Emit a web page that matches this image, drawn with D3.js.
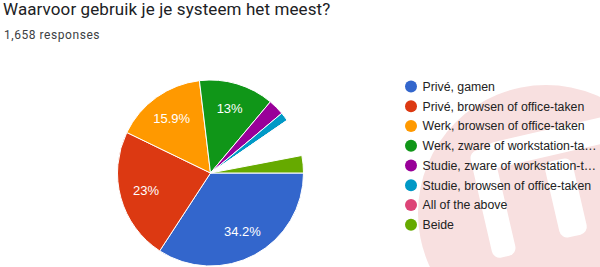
<!DOCTYPE html>
<html>
<head>
<meta charset="utf-8">
<script src="https://cdn.jsdelivr.net/npm/d3@7"></script>
<style>
  body { margin: 0; background: #fff; }
  svg { display: block; }
</style>
</head>
<body>
<svg id="chart" width="600" height="267"></svg>
<script>
// answers shown in the legend (Google Forms summary)
var labels = ["Privé, gamen", "Privé, browsen of office-taken", "Werk, browsen of office-taken",
              "Werk, zware of workstation-taken", "Studie, zware of workstation-taken",
              "Studie, browsen of office-taken", "All of the above", "Beide"];
var counts = [567, 381, 264, 216, 46, 25, 1, 50];
var colors = ["#3366cc", "#dc3912", "#ff9900", "#109618", "#990099", "#0099c6", "#dd4477", "#66aa00"];
// remaining answers (not in this legend page), shown as the empty wedge
var otherCount = 108;
var total = 1658;

var svg = d3.select("#chart");

// faint watermark behind the legend
var wm = svg.append("g");
wm.append("circle").attr("cx", 546).attr("cy", 213).attr("r", 128).attr("fill", "#f8e0e0");
var bars = [
  {cx: 493, cy: 203, w: 24, h: 110},
  {cx: 552, cy: 142, w: 130, h: 26},
  {cx: 566, cy: 198, w: 28, h: 78}
];
wm.selectAll("rect").data(bars).enter().append("rect")
  .attr("x", d => d.cx - d.w / 2).attr("y", d => d.cy - d.h / 2)
  .attr("width", d => d.w).attr("height", d => d.h)
  .attr("rx", 8)
  .attr("transform", d => "rotate(-13," + d.cx + "," + d.cy + ")")
  .attr("fill", "#fff");

// titles
svg.append("text")
  .attr("x", 3).attr("y", 15)
  .style("font-family", "Roboto, sans-serif")
  .style("font-size", "17px")
  .style("letter-spacing", "0.1px")
  .style("fill", "#202124")
  .text("Waarvoor gebruik je je systeem het meest?");
svg.append("text")
  .attr("x", 4).attr("y", 39.3)
  .style("font-family", "Roboto, sans-serif")
  .style("font-size", "12px")
  .style("letter-spacing", "0.55px")
  .style("fill", "#3c4043")
  .text(d3.format(",")(total) + " responses");

// pie
var data = labels.map((l, i) => ({label: l, count: counts[i], color: colors[i]}));
var pieData = data.slice(0, 7).concat([{label: null, count: otherCount, color: null}], data.slice(7));

var r = 93, cx = 210.5, cy = 173;
var pie = d3.pie().sort(null).value(d => d.count)
  .startAngle(Math.PI / 2).endAngle(Math.PI / 2 + 2 * Math.PI);
var arc = d3.arc().innerRadius(0).outerRadius(r);
var labelArc = d3.arc().innerRadius(r * 0.72).outerRadius(r * 0.72);
var pct = d3.format(".1~f");

var g = svg.append("g").attr("transform", "translate(" + cx + "," + cy + ")");
var arcs = pie(pieData);
g.selectAll("path").data(arcs.filter(a => a.data.color)).enter().append("path")
  .attr("d", arc)
  .attr("fill", a => a.data.color)
  .attr("stroke", "#fff")
  .attr("stroke-width", 1);

g.selectAll("text").data(arcs.filter(a => a.data.color && a.data.count / total >= 0.05)).enter().append("text")
  .attr("transform", a => "translate(" + labelArc.centroid(a) + ")")
  .attr("text-anchor", "middle")
  .attr("dy", "0.35em")
  .style("font-family", "Arial, 'Liberation Sans', sans-serif")
  .style("font-size", "13px")
  .style("fill", "#fff")
  .text(a => pct(a.data.count / total * 100) + "%");

// legend
var lg = svg.append("g").attr("transform", "translate(411,86.5)");
var item = lg.selectAll("g").data(data).enter().append("g")
  .attr("transform", (d, i) => "translate(0," + i * 19.75 + ")");
item.append("circle").attr("r", 6).attr("fill", d => d.color);
item.append("text")
  .attr("x", 11.5).attr("dy", "0.35em")
  .style("font-family", "Arial, 'Liberation Sans', sans-serif")
  .style("font-size", "12.3px")
  .style("fill", "#222")
  .text(d => d.label)
  .each(function(d) {
    var t = d3.select(this), maxW = 176, s = d.label;
    if (this.getComputedTextLength() <= maxW) return;
    while (s.length > 1) {
      s = s.slice(0, -1);
      t.text(s + "…");
      if (this.getComputedTextLength() <= maxW) break;
    }
  });
</script>
</body>
</html>
